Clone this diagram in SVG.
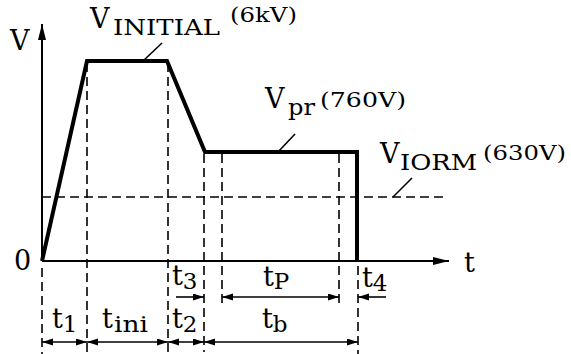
<svg xmlns="http://www.w3.org/2000/svg" width="571" height="354" viewBox="0 0 571 354">
<style>
text{font-family:"DejaVu Serif","Liberation Serif",serif;fill:#000}
.m{font-size:27px}
.s{font-size:23px}
.p{font-size:21px}
.axis{stroke:#000;stroke-width:2;fill:none}
.wave{stroke:#000;stroke-width:4;fill:none;stroke-linejoin:miter}
.dash{stroke:#000;stroke-width:1.6;fill:none;stroke-dasharray:9 5}
.dim{stroke:#000;stroke-width:1.6;fill:none}
.lead{stroke:#000;stroke-width:1.6;fill:none}
</style>
<defs>
<marker id="ah" markerUnits="userSpaceOnUse" markerWidth="11" markerHeight="8" refX="11" refY="3.5" orient="auto-start-reverse">
<path d="M0,0 L11,3.5 L0,7 z" fill="#000"/>
</marker>
<marker id="ax" markerUnits="userSpaceOnUse" markerWidth="17" markerHeight="9" refX="16" refY="4" orient="auto">
<path d="M0,0 L16,4 L0,8 z" fill="#000"/>
</marker>
</defs>
<g id="axes">
<line class="axis" x1="42" y1="261" x2="42" y2="24" marker-end="url(#ax)"/>
<line class="axis" x1="42" y1="261" x2="449" y2="261" marker-end="url(#ax)"/>
<text id="lblV" class="m" x="10" y="50">V</text>
<text id="lblt" class="m" x="464" y="272">t</text>
<text id="lbl0" class="m" x="14" y="270">0</text>
</g>
<g id="connectors">
<line class="dash" x1="42" y1="268" x2="42" y2="354"/>
<line class="dash" x1="87" y1="63" x2="87" y2="352"/>
<line class="dash" x1="168" y1="63" x2="168" y2="352"/>
<line class="dash" x1="204" y1="154" x2="204" y2="352"/>
<line class="dash" x1="222" y1="154" x2="222" y2="307"/>
<line class="dash" x1="339" y1="154" x2="339" y2="307"/>
<line class="dash" x1="358" y1="266" x2="358" y2="354"/>
<line class="dash" x1="42" y1="197" x2="448" y2="197"/>
<line class="dim" x1="42" y1="342" x2="87" y2="342" marker-start="url(#ah)" marker-end="url(#ah)"/>
<line class="dim" x1="87" y1="342" x2="168" y2="342" marker-start="url(#ah)" marker-end="url(#ah)"/>
<line class="dim" x1="168" y1="342" x2="204" y2="342" marker-start="url(#ah)" marker-end="url(#ah)"/>
<line class="dim" x1="204" y1="342" x2="358" y2="342" marker-start="url(#ah)" marker-end="url(#ah)"/>
<line class="dim" x1="176" y1="297" x2="204" y2="297" marker-end="url(#ah)"/>
<line class="dim" x1="222" y1="297" x2="339" y2="297" marker-start="url(#ah)" marker-end="url(#ah)"/>
<line class="dim" x1="386" y1="297" x2="358" y2="297" marker-end="url(#ah)"/>
<line class="lead" x1="143" y1="61" x2="162" y2="43"/>
<line class="lead" x1="278" y1="152" x2="295" y2="134"/>
<line class="lead" x1="393" y1="197" x2="412" y2="178"/>
</g>
<g id="waveform">
<polyline class="wave" points="42,261 87,61 167,61 205,152 357,152 357,261"/>
</g>
<g id="vinitial">
<text class="m" x="90" y="28">V</text>
<text class="s" x="113" y="35" textLength="107" lengthAdjust="spacingAndGlyphs">INITIAL</text>
<text class="p" x="230" y="22" textLength="67" lengthAdjust="spacingAndGlyphs">(6kV)</text>
</g>
<g id="vpr">
<text class="m" x="265" y="108">V</text>
<text class="s" x="288" y="115" textLength="27" lengthAdjust="spacingAndGlyphs">pr</text>
<text class="p" x="320" y="107" textLength="86" lengthAdjust="spacingAndGlyphs">(760V)</text>
</g>
<g id="viorm">
<text class="m" x="380" y="163">V</text>
<text class="s" x="400" y="170" textLength="77" lengthAdjust="spacingAndGlyphs">IORM</text>
<text class="p" x="483" y="160" textLength="83" lengthAdjust="spacingAndGlyphs">(630V)</text>
</g>
<g id="t1"><text class="m" x="52" y="328">t<tspan class="s" dy="4">1</tspan></text></g>
<g id="tini"><text class="m" x="102" y="328">t</text><text class="s" x="114" y="332" textLength="34" lengthAdjust="spacingAndGlyphs">ini</text></g>
<g id="t2"><text class="m" x="172" y="328">t<tspan class="s" dy="4">2</tspan></text></g>
<g id="tb"><text class="m" x="262" y="328">t<tspan class="s" dy="4">b</tspan></text></g>
<g id="t3"><text class="m" x="172" y="285">t<tspan class="s" dy="4">3</tspan></text></g>
<g id="tp"><text class="m" x="263" y="286">t<tspan class="s" dy="3">P</tspan></text></g>
<g id="t4"><text class="m" x="362" y="287">t<tspan class="s" dy="4">4</tspan></text></g>
</svg>
